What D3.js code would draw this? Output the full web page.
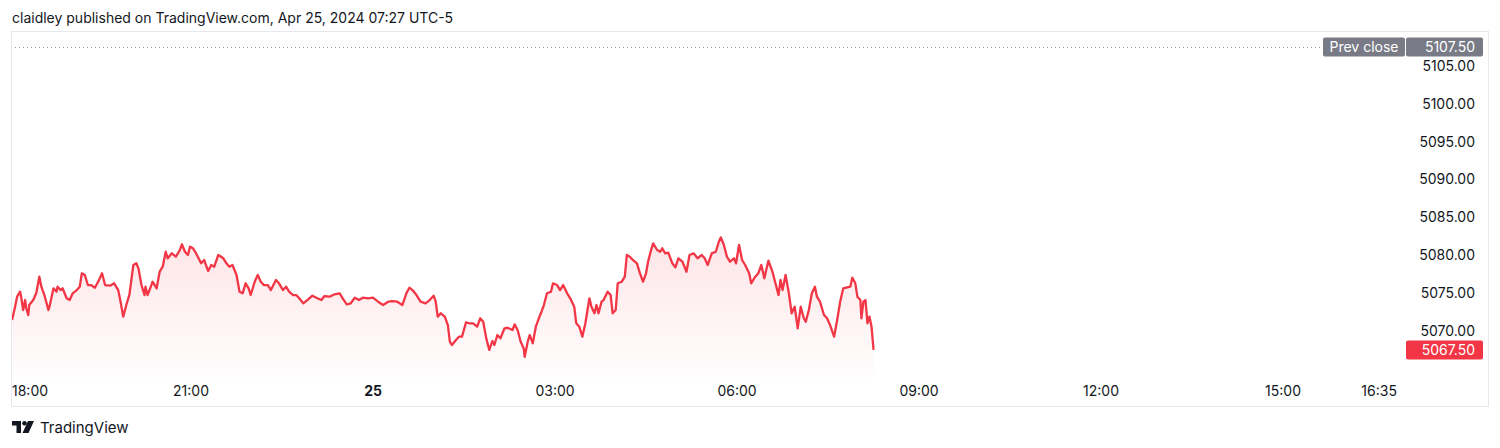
<!DOCTYPE html>
<html><head><meta charset="utf-8">
<script src="https://cdn.jsdelivr.net/npm/d3@7"></script>
<style>
html,body{margin:0;padding:0;background:#fff;}
svg{display:block;font-family:Inter,"Noto Sans",Roboto,sans-serif;}
</style></head>
<body><svg id="c" width="1500" height="448"></svg>
<script>
// ---- data ----
const sessionStart = new Date(2024, 3, 24, 18, 0); // Apr 24 18:00
const minutesFromStart = [3,6,8,11,12,14,16,17,19,20,24,27,30,32,35,39,40,44,47,48,51,53,57,60,63,67,70,72,75,78,81,85,89,92,95,100,104,108,110,113,116,119,123,126,128,131,134,135,137,139,142,146,149,152,155,157,161,165,169,171,174,177,179,182,185,190,193,197,200,203,207,212,215,218,221,225,228,231,234,237,239,243,246,249,252,256,259,264,267,271,274,277,281,284,287,291,295,300,305,309,312,317,322,327,330,334,338,342,346,350,355,360,365,370,375,379,384,389,393,396,399,403,407,412,416,420,422,424,427,431,434,436,438,442,445,448,452,455,459,463,466,469,472,475,478,480,483,486,490,493,498,500,503,506,509,510,513,515,518,521,524,526,529,532,536,538,542,545,548,552,555,559,561,564,567,570,574,576,579,581,583,586,588,592,595,597,600,602,606,609,611,614,617,621,624,627,630,632,635,637,641,644,646,649,652,656,659,662,666,670,673,677,681,685,688,691,695,699,702,704,707,710,713,717,719,722,725,728,732,734,738,741,744,747,751,755,758,761,763,765,768,771,774,777,780,783,786,788,791,794,797,799,802,806,809,812,816,819,822,825,829,832,834,837,839,842,843,845,847,849,851,853,855];
const prices = [5071.45,5073.21,5074.53,5075.19,5074.53,5072.77,5074.09,5073.04,5072.11,5073.43,5074.09,5075.02,5077.17,5075.85,5074.75,5072.77,5073.21,5075.64,5075.19,5075.85,5075.41,5075.64,5074.32,5074.09,5074.98,5075.41,5075.85,5077.62,5077.40,5076.07,5076.07,5075.72,5076.74,5077.62,5076.07,5075.98,5076.30,5075.41,5074.09,5071.89,5073.43,5074.75,5078.72,5078.94,5078.28,5076.07,5074.75,5075.85,5074.75,5075.41,5076.51,5075.64,5077.83,5078.49,5080.47,5079.60,5080.26,5079.81,5080.70,5081.45,5080.47,5080.04,5081.13,5080.92,5080.26,5078.94,5079.38,5077.92,5078.72,5078.49,5080.04,5079.60,5078.94,5078.49,5078.72,5077.40,5075.19,5074.98,5076.30,5075.64,5074.75,5076.51,5077.40,5076.51,5076.07,5076.07,5075.41,5076.74,5076.30,5075.41,5075.85,5075.19,5074.75,5074.75,5074.32,5073.66,5074.09,5074.66,5074.32,5074.09,5074.62,5074.53,5074.85,5074.98,5074.32,5073.53,5073.66,5074.40,5074.09,5074.40,5074.32,5074.40,5073.87,5073.43,5073.87,5073.96,5073.87,5073.43,5074.98,5075.72,5075.41,5074.75,5073.87,5073.66,5074.09,5074.66,5073.87,5071.89,5072.34,5071.89,5070.79,5068.59,5068.15,5068.81,5069.25,5069.25,5071.15,5071.02,5071.02,5070.57,5071.68,5071.23,5069.03,5067.49,5068.68,5068.15,5069.47,5069.03,5070.36,5070.43,5070.13,5070.88,5070.13,5068.59,5067.71,5066.60,5068.59,5069.47,5068.37,5070.57,5071.68,5072.34,5073.43,5074.98,5075.19,5076.30,5076.07,5075.41,5076.07,5074.98,5074.32,5073.21,5071.02,5070.57,5069.25,5071.02,5074.32,5073.21,5072.34,5073.43,5072.34,5073.87,5074.09,5075.19,5074.75,5072.34,5072.77,5076.30,5076.51,5077.17,5080.04,5079.81,5079.38,5078.94,5077.62,5076.51,5077.62,5079.15,5080.70,5081.58,5080.70,5080.47,5080.92,5080.26,5080.34,5078.94,5078.41,5079.60,5079.15,5077.83,5080.04,5080.26,5079.60,5080.04,5079.60,5078.72,5080.26,5080.47,5081.79,5082.37,5081.36,5079.81,5079.15,5079.60,5078.94,5081.36,5079.38,5078.72,5077.62,5076.30,5077.17,5077.62,5078.72,5076.96,5079.28,5077.83,5076.30,5074.75,5076.74,5075.41,5077.40,5075.19,5072.34,5073.21,5070.36,5073.21,5071.68,5071.23,5072.77,5074.98,5075.85,5074.53,5073.87,5072.11,5071.68,5070.79,5069.25,5071.45,5073.87,5075.64,5075.77,5075.85,5077.04,5076.30,5074.53,5074.09,5071.68,5073.87,5074.09,5071.02,5071.89,5070.57,5067.50];
const priceTicks = [5070,5075,5080,5085,5090,5095,5100,5105];
const prevClose = 5107.50;
const lastPrice = 5067.50;
const timeTickLabels = ["18:00","21:00","25","03:00","06:00","09:00","12:00","15:00","16:35"];
const timeTickMinutes = [0,180,360,540,720,900,1080,1260,1355];
const headerText = "claidley published on TradingView.com, Apr 25, 2024 07:27 UTC-5";
const brandText = "TradingView";

// ---- layout ----
const svg = d3.select("#c");
const pane = {left: 11, top: 31, right: 1408, bottom: 377};
const outer = {left: 11.5, top: 31.5, right: 1488.5, bottom: 406.5};
const RED = "#F23645";

const x = d3.scaleTime()
  .domain([sessionStart, d3.timeMinute.offset(sessionStart, 24*60)])
  .range([9, 9 + 24*60.67]);
const y = d3.scaleLinear().domain([5070, 5105]).range([331, 66]);

const data = minutesFromStart.map((m,i)=>({t: d3.timeMinute.offset(sessionStart, m), v: prices[i]}));

// header
svg.append("text").attr("x", 12).attr("y", 23).attr("font-size", 14).attr("fill", "#131722").text(headerText);

// outer frame
svg.append("rect").attr("x", outer.left).attr("y", outer.top)
  .attr("width", outer.right-outer.left).attr("height", outer.bottom-outer.top)
  .attr("fill","none").attr("stroke","#e6e8ee").attr("stroke-width",1);

// clip
const defs = svg.append("defs");
defs.append("clipPath").attr("id","pc").append("rect")
  .attr("x", pane.left+1).attr("y", pane.top).attr("width", pane.right-pane.left-1).attr("height", pane.bottom-pane.top);
const grad = defs.append("linearGradient").attr("id","ag").attr("gradientUnits","userSpaceOnUse")
  .attr("x1",0).attr("x2",0).attr("y1", y(d3.max(prices))).attr("y2", pane.bottom);
grad.append("stop").attr("offset",0).attr("stop-color", RED).attr("stop-opacity",0.13);
grad.append("stop").attr("offset",1).attr("stop-color", RED).attr("stop-opacity",0.01);

const g = svg.append("g").attr("clip-path","url(#pc)");

// prev close dotted line
g.append("line").attr("x1", pane.left).attr("x2", 1323).attr("y1", Math.round(y(prevClose))+0.5).attr("y2", Math.round(y(prevClose))+0.5)
  .attr("stroke","#9598a1").attr("stroke-width",1).attr("stroke-dasharray","1,3");

// area + line
g.append("path").datum(data)
  .attr("d", d3.area().x(d=>x(d.t)).y0(pane.bottom).y1(d=>y(d.v)))
  .attr("fill","url(#ag)");
g.append("path").datum(data)
  .attr("d", d3.line().x(d=>x(d.t)).y(d=>y(d.v)))
  .attr("fill","none").attr("stroke", RED).attr("stroke-width",2.3).attr("stroke-linejoin","round");

// price axis
const yAxis = svg.append("g").attr("transform", `translate(1475,0)`);
yAxis.selectAll("text").data(priceTicks).join("text")
  .attr("x",0).attr("y", d=>y(d)).attr("dy","0.35em").attr("text-anchor","end")
  .attr("font-size",14).attr("fill","#131722").text(d=>d.toFixed(2));

// prev close labels
const pcY = y(prevClose);
svg.append("rect").attr("x",1323).attr("y",pcY-9.5).attr("width",82).attr("height",19).attr("rx",2).attr("fill","#787b86");
svg.append("text").attr("x",1364).attr("y",pcY).attr("dy","0.35em").attr("text-anchor","middle")
  .attr("font-size",14).attr("fill","#fff").text("Prev close");
svg.append("rect").attr("x",1406).attr("y",pcY-9.5).attr("width",77).attr("height",19).attr("rx",2).attr("fill","#787b86");
svg.append("text").attr("x",1475).attr("y",pcY).attr("dy","0.35em").attr("text-anchor","end")
  .attr("font-size",14).attr("fill","#fff").text(prevClose.toFixed(2));

// last price label
const lpY = y(lastPrice);
svg.append("rect").attr("x",1406).attr("y",lpY-9.5).attr("width",77).attr("height",19).attr("rx",2).attr("fill",RED);
svg.append("text").attr("x",1475).attr("y",lpY).attr("dy","0.35em").attr("text-anchor","end")
  .attr("font-size",14).attr("fill","#fff").text(lastPrice.toFixed(2));

// time axis
const tAxis = svg.append("g");
timeTickLabels.forEach((lab,i)=>{
  const t = d3.timeMinute.offset(sessionStart, timeTickMinutes[i]);
  let px = x(t);
  const txt = tAxis.append("text").attr("y", 396).attr("font-size",14).attr("fill","#131722")
    .attr("font-weight", lab==="25" ? 700 : 400).text(lab);
  if (px - 21 < 12) { txt.attr("x",12).attr("text-anchor","start"); }
  else { txt.attr("x",px).attr("text-anchor","middle"); }
});

// brand
const logo = svg.append("g").attr("transform","translate(12,421)").attr("fill","#131722");
logo.append("path").attr("d","M0 0 H9 V12 H4.5 V4.5 H0 Z");
logo.append("circle").attr("cx",12.5).attr("cy",2.3).attr("r",2.3);
logo.append("path").attr("d","M16 0 H22 L16.5 12 H10.5 Z");
svg.append("text").attr("x",40).attr("y",433).attr("font-size",15).attr("fill","#131722").text(brandText);
</script></body></html>
